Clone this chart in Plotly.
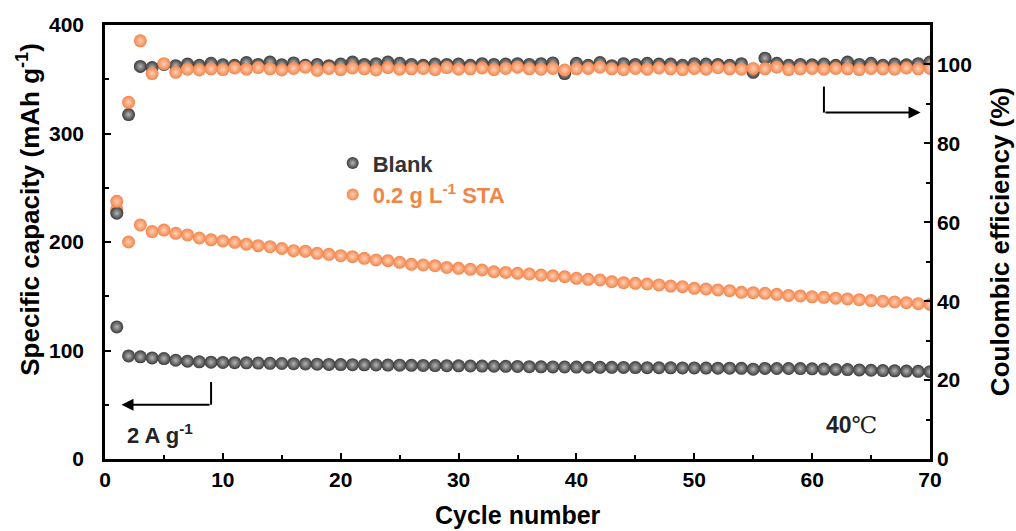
import plotly.graph_objects as go

cycles = list(range(1, 71))

blank_capacity = [121.7, 95.0, 94.2, 93.2, 92.6, 91.0, 90.2, 89.6, 89.2, 89.0,
                  88.8, 88.6, 88.4, 88.2, 88.0, 87.8, 87.6, 87.4, 87.2, 87.0,
                  86.9, 86.8, 86.7, 86.6, 86.5, 86.3, 86.2, 86.1, 86.0, 85.9,
                  85.7, 85.6, 85.5, 85.4, 85.3, 85.1, 85.0, 84.9, 84.8, 84.7,
                  84.6, 84.5, 84.5, 84.4, 84.3, 84.2, 84.1, 84.0, 83.9, 83.9,
                  83.8, 83.7, 83.7, 83.6, 82.8, 83.5, 83.4, 83.4, 83.3, 83.1,
                  82.9, 82.6, 82.4, 82.1, 81.8, 81.5, 81.3, 81.0, 80.8, 80.5]

sta_capacity = [230.0, 200.0, 215.7, 209.6, 211.0, 208.0, 206.5, 203.7, 202.0, 201.0,
                199.7, 198.0, 196.6, 195.7, 194.0, 192.0, 191.5, 189.6, 188.6, 187.4,
                186.5, 185.0, 183.4, 182.8, 181.3, 179.4, 178.8, 178.2, 176.6, 175.7,
                174.8, 174.2, 172.6, 172.0, 171.2, 170.5, 169.5, 168.8, 168.0, 166.5,
                165.6, 165.0, 163.4, 162.5, 161.9, 161.3, 160.4, 159.4, 158.8, 157.3,
                156.7, 155.8, 155.1, 153.6, 153.3, 152.7, 151.8, 150.8, 150.3, 149.5,
                149.0, 148.2, 147.5, 146.8, 146.0, 145.4, 144.7, 144.0, 143.2, 142.5]

blank_ce = [62.3, 87.3, 99.5, 99.2, 100.0, 99.7, 100.1, 99.8, 100.3, 99.9,
            99.8, 100.5, 100.0, 100.6, 99.9, 100.4, 99.8, 100.0, 99.7, 100.1,
            100.6, 100.0, 100.2, 100.6, 100.3, 100.0, 99.8, 100.1, 100.0, 100.1,
            99.8, 100.2, 100.0, 100.1, 100.2, 100.0, 100.2, 100.4, 97.7, 100.3,
            99.8, 100.5, 99.7, 100.2, 100.0, 100.3, 100.1, 100.1, 99.8, 100.2,
            100.1, 100.0, 99.8, 100.2, 98.0, 101.6, 100.3, 99.8, 100.0, 99.9,
            100.1, 99.8, 100.6, 100.0, 100.3, 99.8, 100.1, 99.9, 100.2, 100.6]

sta_ce = [65.3, 90.4, 106.0, 97.7, 100.2, 98.0, 98.8, 98.6, 98.9, 98.7,
          99.1, 98.8, 99.2, 98.9, 98.6, 99.0, 99.3, 98.5, 99.0, 98.7,
          99.1, 98.9, 98.6, 99.2, 98.8, 98.9, 99.0, 98.7, 99.2, 98.8,
          98.9, 99.1, 98.7, 99.0, 99.3, 98.9, 98.8, 99.0, 98.6, 98.9,
          99.0, 99.3, 98.9, 98.7, 99.0, 98.8, 99.1, 98.9, 98.7, 99.0,
          98.8, 99.2, 98.9, 98.8, 99.0, 98.9, 99.3, 98.7, 98.9, 99.0,
          98.8, 99.0, 98.9, 98.7, 99.0, 98.9, 98.8, 99.1, 98.9, 99.0]

BLACK = "#3a3a3a"
BLACK_HI = "#b5b5b5"
ORANGE = "#f5844a"
ORANGE_HI = "#fcd0b4"
FONT = "Arial, Liberation Sans, sans-serif"

fig = go.Figure()

def ball(color, hi, size=13):
    return dict(size=size, color=color, line=dict(width=0),
                gradient=dict(type="radial", color=hi))

fig.add_trace(go.Scatter(x=cycles, y=blank_capacity, mode="markers",
                         name="<span style='color:#333333'><b>Blank</b></span>",
                         marker=ball(BLACK, BLACK_HI)))
fig.add_trace(go.Scatter(x=cycles, y=sta_capacity, mode="markers",
                         name="<span style='color:#f08548'><b>0.2 g L<sup>-1</sup> STA</b></span>",
                         marker=ball(ORANGE, ORANGE_HI)))
fig.add_trace(go.Scatter(x=cycles, y=blank_ce, mode="markers", yaxis="y2",
                         showlegend=False, marker=ball(BLACK, BLACK_HI)))
fig.add_trace(go.Scatter(x=cycles, y=sta_ce, mode="markers", yaxis="y2",
                         showlegend=False, marker=ball(ORANGE, ORANGE_HI)))

tickfont = dict(family=FONT, size=21, color="black", weight="bold")
axis_common = dict(showgrid=False, zeroline=False, showline=True, linecolor="black",
                   linewidth=2.5, ticks="inside", ticklen=6, tickwidth=2,
                   tickcolor="black", tickfont=tickfont)

fig.update_layout(
    width=1016, height=531,
    margin=dict(l=105, r=86, t=25, b=72),
    paper_bgcolor="white", plot_bgcolor="white",
    font=dict(family=FONT, color="black"),
    xaxis=dict(range=[0, 70], dtick=10, mirror=True,
               minor=dict(ticks="inside", dtick=5, ticklen=4, tickwidth=1.5, tickcolor="black"),
               **axis_common),
    yaxis=dict(range=[0, 400], dtick=100, mirror=True, ticklabelstandoff=14,
               minor=dict(ticks="inside", dtick=50, ticklen=4, tickwidth=1.5, tickcolor="black"),
               **axis_common),
    yaxis2=dict(range=[0, 110], tickvals=[0, 20, 40, 60, 80, 100], overlaying="y", side="right",
                minor=dict(ticks="inside", tickvals=[10, 30, 50, 70, 90], ticklen=4, tickwidth=1.5,
                           tickcolor="black"),
                **axis_common),
    legend=dict(x=0.276, y=0.73, xanchor="left", yanchor="top",
                bgcolor="rgba(0,0,0,0)", font=dict(family=FONT, size=22),
                itemsizing="constant", tracegroupgap=2),
    showlegend=True,
)

annotations = [
    dict(text="<b>Specific capacity (mAh g<sup>-1</sup>)</b>", xref="paper", yref="paper",
         x=-0.093, y=0.575, xanchor="center", yanchor="middle", textangle=-90, showarrow=False,
         font=dict(family=FONT, size=26, color="black")),
    dict(text="<b>Coulombic efficiency (%)</b>", xref="paper", yref="paper",
         x=1.085, y=0.50, xanchor="center", yanchor="middle", textangle=-90, showarrow=False,
         font=dict(family=FONT, size=26, color="black")),
    dict(text="<b>Cycle number</b>", xref="paper", yref="paper",
         x=0.5, y=-0.129, xanchor="center", yanchor="middle", showarrow=False,
         font=dict(family=FONT, size=25, color="black")),
    dict(text="<b>2 A g<sup>-1</sup></b>", xref="x", yref="y", x=1.7, y=23,
         xanchor="left", yanchor="middle", showarrow=False,
         font=dict(family=FONT, size=22, color="#222222")),
    dict(text="<b>40</b><span style='font-family:DejaVu Serif'>℃</span>", xref="x", yref="y",
         x=61.0, y=31, xanchor="left", yanchor="middle", showarrow=False,
         font=dict(family=FONT, size=23, color="#222222")),
    dict(text="", xref="x", yref="y", x=1.4, y=50, ax=9, ay=50, axref="x", ayref="y",
         showarrow=True, arrowhead=2, arrowsize=1.2, arrowwidth=2, arrowcolor="black"),
    dict(text="", xref="x", yref="y2", x=69.2, y=87.8, ax=61, ay=87.8, axref="x", ayref="y2",
         showarrow=True, arrowhead=2, arrowsize=1.2, arrowwidth=2, arrowcolor="black"),
]
fig.update_layout(annotations=annotations)

fig.add_shape(type="line", xref="x", yref="y", x0=9, x1=9, y0=71, y1=50,
              line=dict(color="black", width=2))
fig.add_shape(type="line", xref="x", yref="y2", x0=61, x1=61, y0=94.4, y1=87.8,
              line=dict(color="black", width=2))

fig.write_html("out.html")
